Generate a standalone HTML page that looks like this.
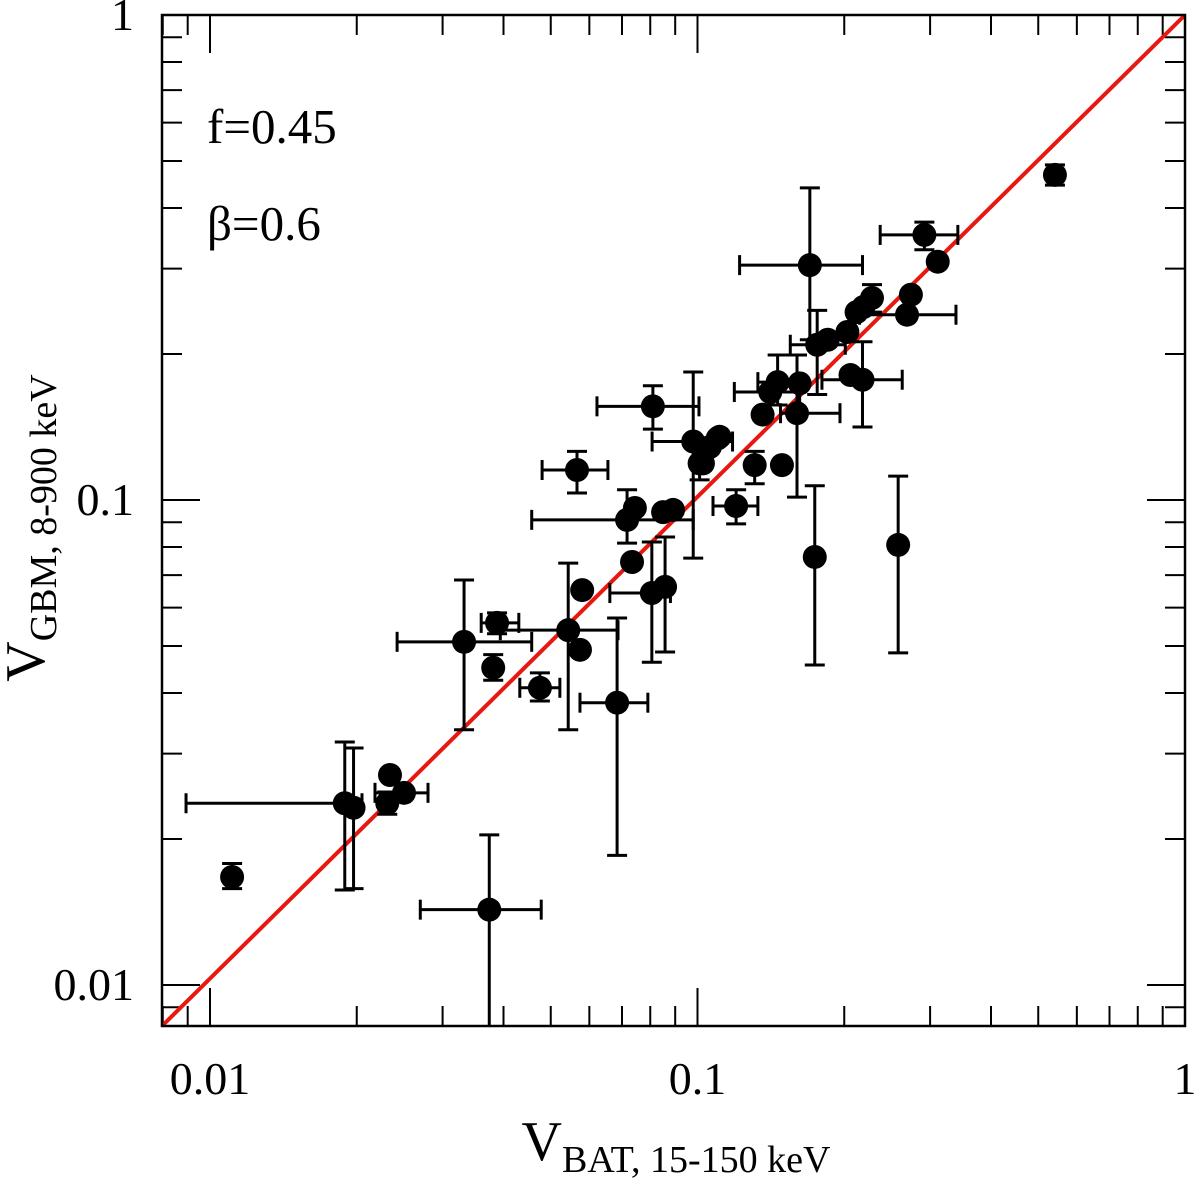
<!DOCTYPE html>
<html><head><meta charset="utf-8"><style>
html,body{margin:0;padding:0;background:#fff;}
svg{display:block;font-family:"Liberation Serif",serif;}
</style></head><body>
<svg id="chart" width="1200" height="1183" viewBox="0 0 1200 1183" xmlns="http://www.w3.org/2000/svg">
<g id="ticks"></g>
<g id="labels"></g>
<line id="fit" stroke="#e8170f" stroke-width="4"/>
<g id="pts"></g>
<rect x="162" y="15" width="1023" height="1011" fill="none" stroke="#000" stroke-width="2.5"/>
<text x="207" y="143" font-size="49">f=0.45</text>
<text x="207" y="240" font-size="49">β=0.6</text>
<text x="676" y="1160" text-anchor="middle" font-size="56">V<tspan font-size="38" dy="12">BAT, 15-150 keV</tspan></text>
<text transform="translate(44,528) rotate(-90)" text-anchor="middle" font-size="56">V<tspan font-size="38" dy="12">GBM, 8-900 keV</tspan></text>
</svg>
<script>
const xs  =[0.541,0.292,0.311,0.170,0.274,0.269,0.228,0.219,0.212,0.203,0.185,0.176,0.218,0.206,0.146,0.162,0.141,0.136,0.160,0.111,0.106,0.098,0.101,0.131,0.149,0.120,0.0810,0.0566,0.110,0.1026,0.0744,0.0717,0.0850,0.0891,0.0734,0.0806,0.0858,0.0580,0.0543,0.0574,0.0388,0.0684,0.0332,0.0381,0.0475,0.0234,0.0231,0.0250,0.0189,0.0197,0.0111,0.0374,0.174,0.258];
const ys  =[0.468,0.352,0.310,0.305,0.265,0.241,0.261,0.250,0.244,0.222,0.214,0.209,0.177,0.181,0.175,0.174,0.167,0.150,0.151,0.135,0.1286,0.132,0.119,0.118,0.118,0.0972,0.156,0.1153,0.134,0.119,0.0963,0.091,0.0944,0.0954,0.0745,0.0643,0.0662,0.0652,0.0539,0.0491,0.0558,0.0382,0.0510,0.0451,0.0410,0.0271,0.0237,0.0249,0.0237,0.0232,0.0167,0.0143,0.0763,0.0808];
const xLo =[null,0.237,null,0.122,null,0.215,null,null,null,null,null,0.155,0.180,null,0.133,null,0.119,null,0.148,null,null,0.0807,null,null,null,0.1076,0.0622,0.048,null,null,null,0.0457,null,null,null,0.0661,null,null,0.0394,null,0.0360,0.0574,0.0242,null,0.0432,null,null,0.0218,0.00893,null,null,0.0270,null,null];
const xHi =[null,0.342,null,0.218,null,0.339,null,null,null,null,null,0.201,0.263,null,0.162,null,0.162,null,0.196,null,null,0.118,null,null,null,0.133,0.1007,0.0655,null,null,null,0.098,null,null,null,0.0880,0.0947,null,0.0687,null,0.0430,0.0791,0.0457,null,0.0522,null,null,0.0280,0.0205,null,null,0.0478,null,null];
const yLo =[0.446,0.328,null,0.214,null,null,0.244,null,null,null,null,0.165,0.1414,null,0.157,null,null,null,0.1014,null,null,0.0759,0.110,0.108,null,0.0893,0.140,0.1034,null,null,null,0.0815,null,null,null,0.0463,0.0486,null,0.0336,null,0.0530,0.0185,0.0336,0.0425,0.0385,null,0.0225,null,0.0157,0.0158,0.0158,0.005,0.0457,0.0484];
const yHi =[0.491,0.374,null,0.440,null,null,0.278,null,null,null,null,0.246,0.212,null,0.199,null,null,null,0.199,null,null,0.1836,0.128,0.126,null,0.105,0.172,0.126,null,null,null,0.105,null,null,null,0.0819,0.0839,0.0741,0.0741,null,0.0585,0.0571,0.0684,0.0480,0.0440,null,0.0250,null,0.0317,0.0308,0.0178,0.0204,0.107,0.112];
const xTickVals=[0.01,0.1,1];
const xTickLabels=["0.01","0.1","1"];
const yTickVals=[0.01,0.1,1];
const yTickLabels=["0.01","0.1","1"];

const L=162,R=1185,T=15,B=1026;
function X(v){return 1185+487.5*Math.log10(v);}
function Y(v){return 15-485*Math.log10(v);}
const NS="http://www.w3.org/2000/svg";
function mk(tag,at,parent){const e=document.createElementNS(NS,tag);for(const k in at)e.setAttribute(k,at[k]);parent.appendChild(e);return e;}
const tg=document.getElementById('ticks'), lg=document.getElementById('labels'), pg=document.getElementById('pts');
for(let d=-3;d<=0;d++){for(let m=1;m<=9;m++){const v=m*Math.pow(10,d);
  const major=(m===1);const len=major?38:20;
  const px=X(v); if(px>=L&&px<=R){
    const a=mk('line',{x1:px,y1:B,x2:px,y2:B-len,stroke:'#000','stroke-width':2},tg);
    
    
    const b=mk('line',{x1:px,y1:T,x2:px,y2:T+len,stroke:'#000','stroke-width':2},tg);
    
    }
  const py=Y(v); if(py>=T&&py<=B){
    const a=mk('line',{x1:L,y1:py,x2:L+len,y2:py,stroke:'#000','stroke-width':2},tg);
    
    
    const b=mk('line',{x1:R,y1:py,x2:R-len,y2:py,stroke:'#000','stroke-width':2},tg);
    
    }
}}
xTickVals.forEach((v,i)=>{const t=mk('text',{x:X(v),y:1094,'text-anchor':'middle','font-size':46},lg);t.textContent=xTickLabels[i];
  
  });
yTickVals.forEach((v,i)=>{const t=mk('text',{x:134,y:Y(v)+15,'text-anchor':'end','font-size':46},lg);t.textContent=yTickLabels[i];
  
  });
const f=document.getElementById('fit');
f.setAttribute('x1',L);f.setAttribute('y1',B);f.setAttribute('x2',X(1));f.setAttribute('y2',Y(1));
const clip=mk('clipPath',{id:'pc'},document.getElementById('chart'));mk('rect',{x:L,y:T,width:R-L,height:B-T},clip);
pg.setAttribute('clip-path','url(#pc)');
for(let i=0;i<xs.length;i++){
  const g=mk('g',{},pg);
  
  
  const cx=X(xs[i]),cy=Y(ys[i]);const s={stroke:'#000','stroke-width':3};
  if(xLo[i]!==null){const x1=X(xLo[i]),x2=X(xHi[i]);
    mk('line',Object.assign({x1:x1,y1:cy,x2:x2,y2:cy},s),g);
    mk('line',Object.assign({x1:x1,y1:cy-10,x2:x1,y2:cy+10},s),g);
    mk('line',Object.assign({x1:x2,y1:cy-10,x2:x2,y2:cy+10},s),g);}
  if(yLo[i]!==null){const y1=Y(yLo[i]),y2=Y(yHi[i]);
    mk('line',Object.assign({x1:cx,y1:y1,x2:cx,y2:y2},s),g);
    mk('line',Object.assign({x1:cx-10,y1:y1,x2:cx+10,y2:y1},s),g);
    mk('line',Object.assign({x1:cx-10,y1:y2,x2:cx+10,y2:y2},s),g);}
  mk('circle',{cx:cx,cy:cy,r:12,fill:'#000'},g);
}
</script>
</body></html>
